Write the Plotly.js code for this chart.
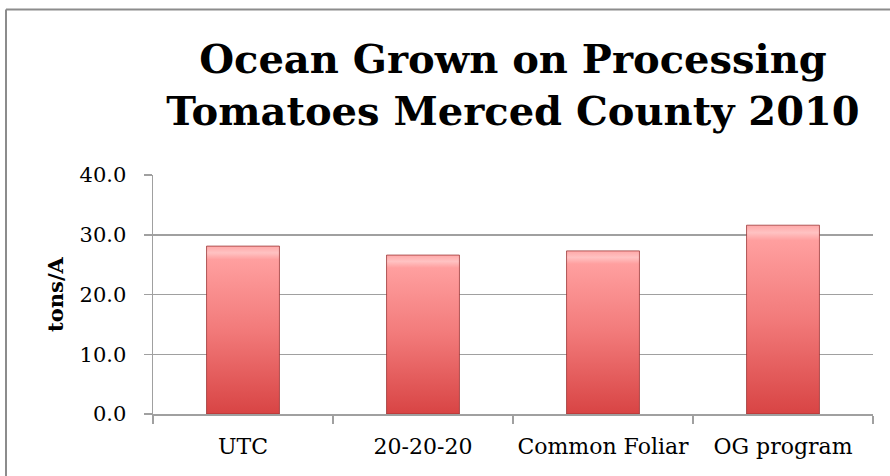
<!DOCTYPE html>
<html>
<head>
<meta charset="utf-8">
<script src="https://cdn.plot.ly/plotly-3.0.1.min.js"></script>
<style>
html,body{margin:0;padding:0;background:#fff;}
#chart{width:890px;height:476px;}
</style>
</head>
<body>
<div id="chart"></div>
<script>
const categories = ["UTC", "20-20-20", "Common Foliar", "OG program"];
const yieldTonsPerAcre = [28.1, 26.6, 27.3, 31.6];
const yTickValues = [0, 10, 20, 30, 40];
const yTickLabels = ["0.0", "10.0", "20.0", "30.0", "40.0"];

const gray = "#a0a0a0";

const trace = {
  type: "bar",
  x: categories,
  y: yieldTonsPerAcre,
  width: 0.405,
  marker: {color: "#e86060", line: {color: "rgba(150,45,45,0.75)", width: 1}},
  hoverinfo: "skip"
};

const bx0 = (6 - 153) / 720, by1 = (414 - 9.5) / 239;

const layout = {
  width: 890, height: 476,
  margin: {l: 153, r: 17, t: 175, b: 62, pad: 0},
  paper_bgcolor: "#fff", plot_bgcolor: "#fff",
  showlegend: false,
  font: {family: "DejaVu Serif, serif", color: "#000", size: 21},
  title: {
    text: "<b>Ocean Grown on Processing<br>Tomatoes Merced County 2010</b>",
    font: {family: "DejaVu Serif, serif", size: 40, color: "#000"},
    xref: "paper", x: 0.5, xanchor: "center",
    yref: "container", y: 1 - 73/476, yanchor: "top"
  },
  xaxis: {
    type: "category",
    showline: true, linecolor: gray, linewidth: 1.5,
    showgrid: false,
    ticks: "outside", tickson: "boundaries", ticklen: 8, tickcolor: gray, tickwidth: 1.5,
    tickangle: 0,
    tickfont: {family: "DejaVu Serif, serif", size: 22, color: "#000"},
    ticklabelstandoff: 12,
    fixedrange: true
  },
  yaxis: {
    range: [0, 40],
    tickvals: yTickValues, ticktext: yTickLabels,
    showline: true, linecolor: gray, linewidth: 1.5,
    showgrid: true, gridcolor: gray, gridwidth: 1.5,
    zeroline: false,
    ticks: "outside", ticklen: 8, tickcolor: gray, tickwidth: 1.5,
    tickfont: {family: "DejaVu Serif, serif", size: 21, color: "#000"},
    ticklabelstandoff: 13,
    title: {text: "<b>tons/A</b>", font: {family: "DejaVu Serif, serif", size: 21, color: "#000"}, standoff: 10},
    fixedrange: true
  },
  shapes: [
    {type: "line", xref: "paper", yref: "paper", x0: bx0, x1: 1.1, y0: by1, y1: by1,
     line: {color: "#8c8c8c", width: 2}, layer: "above"},
    {type: "line", xref: "paper", yref: "paper", x0: bx0, x1: bx0, y0: by1, y1: -0.5,
     line: {color: "#8c8c8c", width: 2}, layer: "above"}
  ]
};

Plotly.newPlot("chart", [trace], layout, {staticPlot: true, displayModeBar: false}).then(function(gd){
  const svg = gd.querySelector("svg.main-svg");
  const ns = "http://www.w3.org/2000/svg";
  let defs = svg.querySelector("defs");
  if (!defs) { defs = document.createElementNS(ns, "defs"); svg.insertBefore(defs, svg.firstChild); }
  const grad = document.createElementNS(ns, "linearGradient");
  grad.setAttribute("id", "barGrad");
  grad.setAttribute("x1", "0"); grad.setAttribute("y1", "0");
  grad.setAttribute("x2", "0"); grad.setAttribute("y2", "1");
  [["0", "#ffa8a8"], ["0.04", "#ffc2c2"], ["0.08", "#ff9f9f"], ["0.5", "#f27a7a"], ["1", "#d84444"]].forEach(function(s){
    const st = document.createElementNS(ns, "stop");
    st.setAttribute("offset", s[0]); st.setAttribute("stop-color", s[1]);
    grad.appendChild(st);
  });
  defs.appendChild(grad);
  gd.querySelectorAll(".trace.bars .point path").forEach(function(p){
    p.style.fill = "url(#barGrad)";
  });
});
</script>
</body>
</html>
